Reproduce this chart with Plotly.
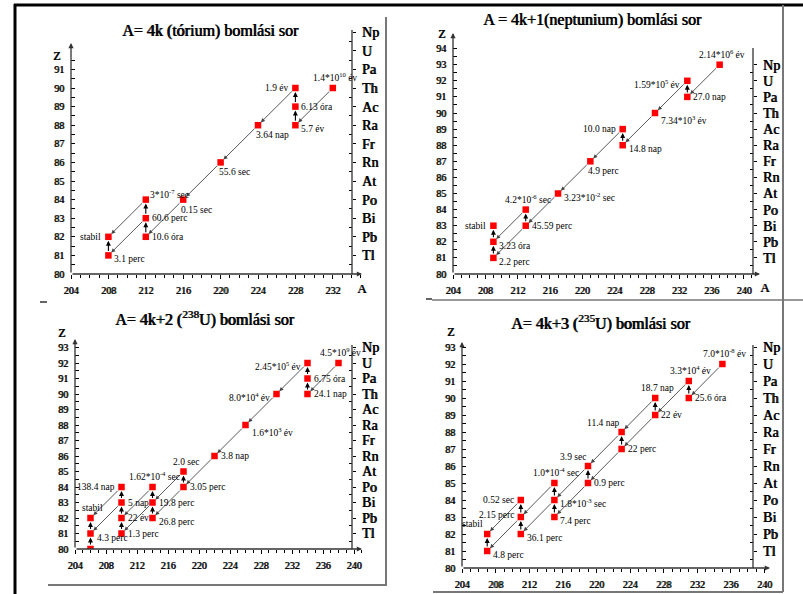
import plotly.graph_objects as go

W, H = 803, 594

# ---------------- data ----------------
elements = ["Tl", "Pb", "Bi", "Po", "At", "Rn", "Fr", "Ra", "Ac", "Th", "Pa", "U", "Np"]
element_Z = [81, 82, 83, 84, 85, 86, 87, 88, 89, 90, 91, 92, 93]

titles = [
    "A= 4k (tórium) bomlási sor",
    "A = 4k+1(neptunium) bomlási sor",
    "A= 4k+2 (<sup>238</sup>U) bomlási sor",
    "A= 4k+3 (<sup>235</sup>U) bomlási sor",
]

# Panel 1: A = 4k (thorium)
p1_A = [232, 228, 228, 228, 224, 220, 216, 212, 212, 212, 208, 208]
p1_Z = [90, 88, 89, 90, 88, 86, 84, 82, 83, 84, 81, 82]
p1_half = ["1.4*10<sup>10</sup> év", "5.7 év", "6.13 óra", "1.9 év", "3.64 nap", "55.6 sec",
           "0.15 sec", "10.6 óra", "60.6 perc", "3*10<sup>-7</sup> sec", "3.1 perc", "stabil"]
p1_alpha = [(232, 90, 228, 88), (228, 90, 224, 88), (224, 88, 220, 86), (220, 86, 216, 84),
            (216, 84, 212, 82), (212, 83, 208, 81), (212, 84, 208, 82)]
p1_beta = [(228, 88, 228, 89), (228, 89, 228, 90), (212, 82, 212, 83), (212, 83, 212, 84),
           (208, 81, 208, 82)]

# Panel 2: A = 4k+1 (neptunium)
p2_A = [237, 233, 233, 229, 225, 225, 221, 217, 213, 213, 209, 209, 209]
p2_Z = [93, 91, 92, 90, 88, 89, 87, 85, 83, 84, 81, 82, 83]
p2_half = ["2.14*10<sup>6</sup> év", "27.0 nap", "1.59*10<sup>5</sup> év", "7.34*10<sup>3</sup> év",
           "14.8 nap", "10.0 nap", "4.9 perc", "3.23*10<sup>-2</sup> sec", "45.59 perc",
           "4.2*10<sup>-6</sup> sec", "2.2 perc", "3.23 óra", "stabil"]
p2_alpha = [(237, 93, 233, 91), (233, 92, 229, 90), (229, 90, 225, 88), (225, 89, 221, 87),
            (221, 87, 217, 85), (217, 85, 213, 83), (213, 84, 209, 82), (213, 83, 209, 81)]
p2_beta = [(233, 91, 233, 92), (225, 88, 225, 89), (213, 83, 213, 84), (209, 81, 209, 82),
           (209, 82, 209, 83)]

# Panel 3: A = 4k+2 (238U)
p3_A = [238, 234, 234, 234, 230, 226, 222, 218, 218, 214, 214, 214, 210, 210, 210, 210, 206, 206, 206]
p3_Z = [92, 90, 91, 92, 90, 88, 86, 84, 85, 82, 83, 84, 81, 82, 83, 84, 80, 81, 82]
p3_half = ["4.5*10<sup>9</sup> év", "24.1 nap", "6.75 óra", "2.45*10<sup>5</sup> év",
           "8.0*10<sup>4</sup> év", "1.6*10<sup>3</sup> év", "3.8 nap", "3.05 perc", "2.0 sec",
           "26.8 perc", "19.8 perc", "1.62*10<sup>-4</sup> sec", "1.3 perc", "22 év", "5 nap",
           "138.4 nap", "", "4.3 perc", "stabil"]
p3_alpha = [(238, 92, 234, 90), (234, 92, 230, 90), (230, 90, 226, 88), (226, 88, 222, 86),
            (222, 86, 218, 84), (218, 84, 214, 82), (218, 85, 214, 83), (214, 83, 210, 81),
            (214, 84, 210, 82), (210, 83, 206, 81), (210, 84, 206, 82)]
p3_beta = [(234, 90, 234, 91), (234, 91, 234, 92), (218, 84, 218, 85), (214, 82, 214, 83),
           (214, 83, 214, 84), (210, 81, 210, 82), (210, 82, 210, 83), (210, 83, 210, 84),
           (206, 80, 206, 81), (206, 81, 206, 82)]

# Panel 4: A = 4k+3 (235U)
p4_A = [235, 231, 231, 227, 227, 223, 223, 219, 219, 215, 215, 215, 211, 211, 211, 207, 207]
p4_Z = [92, 90, 91, 89, 90, 87, 88, 86, 85, 84, 83, 85, 82, 83, 84, 81, 82]
p4_half = ["7.0*10<sup>-8</sup> év", "25.6 óra", "3.3*10<sup>4</sup> év", "22 év", "18.7 nap",
           "22 perc", "11.4 nap", "3.9 sec", "0.9 perc", "1.8*10<sup>-3</sup> sec", "7.4 perc",
           "1.0*10<sup>-4</sup> sec", "36.1 perc", "2.15 perc", "0.52 sec", "4.8 perc", "stabil"]
p4_alpha = [(235, 92, 231, 90), (231, 91, 227, 89), (227, 90, 223, 88), (227, 89, 223, 87),
            (223, 88, 219, 86), (223, 87, 219, 85), (219, 86, 215, 84), (219, 85, 215, 83),
            (215, 85, 211, 83), (215, 84, 211, 82), (211, 84, 207, 82), (211, 83, 207, 81)]
p4_beta = [(231, 90, 231, 91), (227, 89, 227, 90), (223, 87, 223, 88), (219, 85, 219, 86),
           (215, 83, 215, 84), (215, 84, 215, 85), (211, 82, 211, 83), (211, 83, 211, 84),
           (207, 81, 207, 82)]

panels = [
    (p1_A, p1_Z, p1_half, p1_alpha, p1_beta),
    (p2_A, p2_Z, p2_half, p2_alpha, p2_beta),
    (p3_A, p3_Z, p3_half, p3_alpha, p3_beta),
    (p4_A, p4_Z, p4_half, p4_alpha, p4_beta),
]

# ---------------- label placement (style) ----------------
place1 = ["u", "rb", "r", "l", "b", "b", "b", "r", "r", "ur", "rb", "l"]
place2 = ["u", "r", "l", "rb", "rb", "l", "b", "r", "r", "u", "rb", "rb", "l"]
place3 = ["u", "r", "r", "l", "l", "rb", "r", "r", "u", "rb", "r", "u", "r", "r", "r", "l", "", "rb", "u"]
place4 = ["u", "r", "u", "r", "u", "r", "ul", "ul", "r", "r", "rb", "u", "rb", "lu", "l", "rb", "ul2"]
places = [place1, place2, place3, place4]

PLACE = {
    "r": dict(xanchor="left", yanchor="middle", xshift=4, yshift=0),
    "rb": dict(xanchor="left", yanchor="middle", xshift=4, yshift=-4),
    "l": dict(xanchor="right", yanchor="middle", xshift=-5, yshift=0),
    "lu": dict(xanchor="right", yanchor="middle", xshift=-5, yshift=2),
    "b": dict(xanchor="left", yanchor="top", xshift=-4, yshift=-3),
    "u": dict(xanchor="center", yanchor="bottom", xshift=2, yshift=3),
    "ul": dict(xanchor="right", yanchor="bottom", xshift=0, yshift=2),
    "ul2": dict(xanchor="right", yanchor="bottom", xshift=-2, yshift=3),
    "ur": dict(xanchor="left", yanchor="bottom", xshift=2, yshift=-2),
}

# ---------------- geometry (pixels) ----------------
geom = [
    dict(x0=71, ux=9.35, xe=362, y0=274, uy=18.6, yt=30, rx=352, lt=43, rt=30, ytmax=91,
         z=(56, 56), a=(362, 288), title=(210, 31)),
    dict(x0=453, ux=8.08, xe=760, y0=274, uy=16.1, yt=33, rx=753, lt=33, rt=48, ytmax=94,
         z=(441, 34), a=(765, 287), title=(592, 20)),
    dict(x0=75, ux=7.75, xe=362, y0=549, uy=15.5, yt=339, rx=352, lt=339, rt=345, ytmax=93,
         z=(61, 333), a=None, title=(204, 318)),
    dict(x0=462, ux=8.4, xe=770, y0=568, uy=17.0, yt=342, rx=753, lt=342, rt=345, ytmax=93,
         z=(450, 332), a=None, title=(600, 322)),
]

SERIF = "Liberation Serif"


def bfont(size):
    # bold look: Liberation Serif with a thin text shadow
    return dict(family=SERIF, weight="normal", shadow="0.8px 0px 0px black",
                size=size, color="black")


def fx(px):
    return px / W


def fy(py):
    return 1 - py / H


fig = go.Figure()
layout = dict(
    width=W, height=H, margin=dict(l=0, r=0, t=0, b=0, autoexpand=False),
    paper_bgcolor="white", plot_bgcolor="rgba(0,0,0,0)", showlegend=False,
    font=dict(family=SERIF, color="black"),
)
annotations = []
shapes = []

for i, (g, (A, Z, half, alpha, beta), pl) in enumerate(zip(geom, panels, places)):
    n = i + 1
    xn = "x" if n == 1 else f"x{n}"
    yn = "y" if n == 1 else f"y{n}"
    xa = "xaxis" if n == 1 else f"xaxis{n}"
    ya = "yaxis" if n == 1 else f"yaxis{n}"
    yr_n = f"y{n + 4}"
    yr_a = f"yaxis{n + 4}"

    xmax = 204 + (g["xe"] - g["x0"]) / g["ux"]
    ymax = 80 + (g["y0"] - g["yt"]) / g["uy"]
    xright = 204 + (g["rx"] - g["x0"]) / g["ux"]
    yleft_top = 80 + (g["y0"] - g["lt"]) / g["uy"]
    yright_top = 80 + (g["y0"] - g["rt"]) / g["uy"]

    layout[xa] = dict(
        domain=[fx(g["x0"]), fx(g["xe"])], range=[204, xmax], anchor=yn, automargin=False,
        showline=False, showgrid=False, zeroline=False,
        tickmode="linear", tick0=204, dtick=4, ticks="outside", ticklen=4,
        tickcolor="black", tickwidth=1,
        minor=dict(tick0=204, dtick=1, ticks="outside", ticklen=3, tickcolor="black"),
        tickfont=bfont(10), ticklabelstandoff=3,
    )
    ytv = list(range(80, g["ytmax"] + 1))
    ymin_vals = [v + 0.5 for v in range(80, int(yleft_top))]
    layout[ya] = dict(
        domain=[fy(g["y0"]), fy(g["yt"])], range=[80, ymax], anchor=xn, automargin=False,
        showline=False, showgrid=False, zeroline=False,
        tickmode="array", tickvals=ytv, ticks="inside", ticklen=4, tickcolor="black",
        minor=dict(tickmode="array", tickvals=ymin_vals, ticks="inside", ticklen=4,
                   tickcolor="black"),
        tickfont=bfont(10), ticklabelstandoff=6,
    )
    layout[yr_a] = dict(
        overlaying=yn, side="right", anchor="free", position=fx(g["rx"]), automargin=False,
        range=[80, ymax], showline=False, showgrid=False, zeroline=False,
        tickmode="array", tickvals=element_Z, ticktext=elements,
        ticks="outside", ticklen=3, tickcolor="black",
        minor=dict(tickmode="array", tickvals=[v + 0.5 for v in range(80, 93)],
                   ticks="inside", ticklen=3, tickcolor="black"),
        tickfont=bfont(14), ticklabelstandoff=3,
    )

    fig.add_trace(go.Scatter(x=[None], y=[None], xaxis=xn, yaxis=yr_n, mode="markers",
                             hoverinfo="skip", showlegend=False))

    annotations.append(dict(x=xmax, y=80, ax=204, ay=80, xref=xn, yref=yn, axref=xn, ayref=yn,
                            showarrow=True, arrowhead=2, arrowsize=0.8, arrowwidth=1.3,
                            arrowcolor="#333", text=""))
    annotations.append(dict(x=204, y=yleft_top, ax=204, ay=80, xref=xn, yref=yn, axref=xn,
                            ayref=yn, showarrow=True, arrowhead=2, arrowsize=0.8,
                            arrowwidth=1.3, arrowcolor="#333", text=""))
    shapes.append(dict(type="line", xref=xn, yref=yn, x0=xright, x1=xright, y0=80,
                       y1=yright_top, line=dict(color="#333", width=1.3)))

    for (a0, z0, a1, z1) in alpha:
        annotations.append(dict(x=a1, y=z1, ax=a0, ay=z0, xref=xn, yref=yn, axref=xn, ayref=yn,
                                showarrow=True, arrowhead=2, arrowsize=0.9, arrowwidth=0.9,
                                arrowcolor="#444", standoff=4, startstandoff=3, text=""))
    for (a0, z0, a1, z1) in beta:
        annotations.append(dict(x=a1, y=z1, ax=a0, ay=z0, xref=xn, yref=yn, axref=xn, ayref=yn,
                                showarrow=True, arrowhead=2, arrowsize=0.9, arrowwidth=1.1,
                                arrowcolor="black", standoff=4, startstandoff=3, text=""))

    fig.add_trace(go.Scatter(x=A, y=Z, xaxis=xn, yaxis=yn, mode="markers",
                             marker=dict(symbol="square", size=6.5, color="#ff0000"),
                             hoverinfo="skip", showlegend=False))

    for a, z, t, p in zip(A, Z, half, pl):
        if not t:
            continue
        d = dict(PLACE[p])
        if "<sup>" in t and d["yanchor"] == "middle":
            d["yshift"] += -3
        annotations.append(dict(x=a, y=z, xref=xn, yref=yn, text=t, showarrow=False,
                                font=dict(family=SERIF, size=9.5, color="black"), **d))

    annotations.append(dict(x=fx(g["title"][0]), y=fy(g["title"][1]), xref="paper", yref="paper",
                            text=titles[i], showarrow=False, xanchor="center", yanchor="middle",
                            font=bfont(16)))
    annotations.append(dict(x=fx(g["z"][0]), y=fy(g["z"][1]), xref="paper", yref="paper",
                            text="Z", showarrow=False, xanchor="center", yanchor="middle",
                            font=bfont(12)))
    if g["a"]:
        annotations.append(dict(x=fx(g["a"][0]), y=fy(g["a"][1]), xref="paper", yref="paper",
                                text="A", showarrow=False, xanchor="center", yanchor="middle",
                                font=bfont(13)))


def pline(x0, y0, x1, y1, color, width):
    shapes.append(dict(type="line", xref="paper", yref="paper", x0=fx(x0), y0=fy(y0),
                       x1=fx(x1), y1=fy(y1), line=dict(color=color, width=width)))


pline(14, 5, 803, 5, "#000000", 3)
pline(15, 4, 15, 594, "#000000", 3)
pline(386, 17, 386, 585, "#777", 2)
pline(783, 5, 783, 592, "#777", 2)
pline(432, 300, 803, 300, "#777", 1.5)
pline(426, 299, 432, 299, "#333", 1.5)
pline(40, 302, 47, 302, "#333", 1.5)
pline(48, 585, 387, 585, "#777", 2)
pline(433, 592, 783, 592, "#777", 2)

layout["annotations"] = annotations
layout["shapes"] = shapes
fig.update_layout(**layout)

fig.write_html("out.html", config={"displayModeBar": False},
               post_script="document.body.style.margin='0px';document.body.style.padding='0px';")
